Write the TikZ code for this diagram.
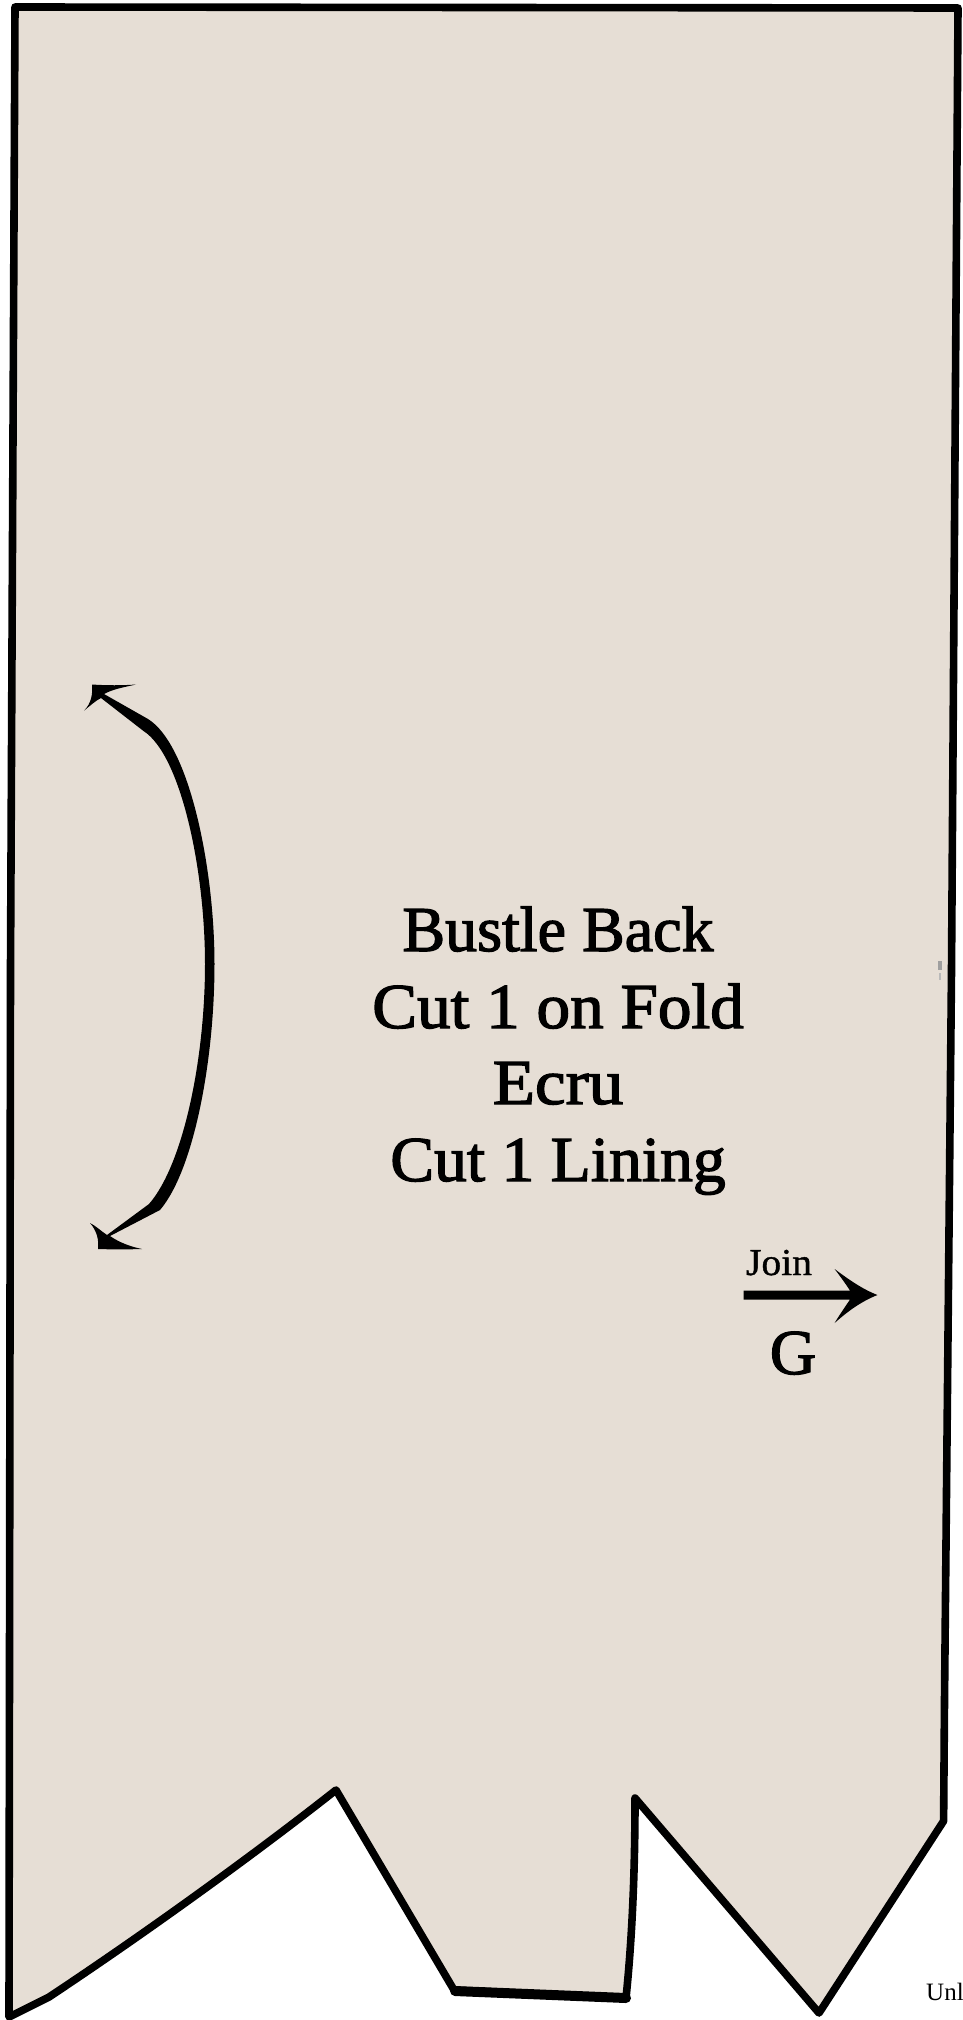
\documentclass[tikz,border=0pt]{standalone}
\usepackage{graphicx}
\usepackage{fontspec}
\setmainfont{Liberation Serif}
\newfontfamily\patfont[FakeBold=2]{Liberation Serif}
\newfontfamily\joinfont[FakeBold=1]{Liberation Serif}
\definecolor{ecru}{HTML}{E6DED5}
\tikzset{
  piece/.style={draw=black,fill=ecru,line width=7.6pt,line join=round,line cap=round},
  ink/.style={fill=black,draw=none},
  title/.style={inner sep=0pt,anchor=base,font=\patfont\fontsize{64}{64}\selectfont},
  small/.style={inner sep=0pt,anchor=base,font=\joinfont\fontsize{38}{38}\selectfont},
  tiny/.style={inner sep=0pt,anchor=base west,font=\fontsize{25}{25}\selectfont}
}
\begin{document}
\begin{tikzpicture}[x=1pt,y=-1pt]
\useasboundingbox (0,0) rectangle (962,2020);
\fill[white] (0,0) rectangle (962,2020);
% pattern piece outline
\draw[piece] (15,7) -- (958,8) -- (951.5,970) -- (944.5,1700) -- (943.6,1821)
  -- (819,2013) -- (635,1798)
  .. controls (635,1860) and (633,1930) .. (626,1998)
  -- (454,1990) -- (336,1790)
  .. controls (260,1850) and (150,1930) .. (49,1997)
  -- (9,2017) -- (10.5,970) -- cycle;
% heavier stretch along the lower edge
\draw[line width=10pt,line cap=round] (455,1991) -- (626,1998);
% small smudge near the right edge
\fill[gray!75] (938,961) rectangle (941.5,970);
\fill[gray!55] (939,973) rectangle (941,980);
% double-headed curved arrow
\path[ink] (92,684.5) .. controls (107,685.5) and (122,685.5) .. (136,684.5)
  .. controls (125,687) and (113,689) .. (104,694)
  -- (148,719)
  .. controls (190,745) and (214.5,870) .. (214.5,964)
  .. controls (214.5,1060) and (194,1170) .. (160,1210)
  -- (110,1236)
  .. controls (120,1243) and (132,1247) .. (142,1249)
  .. controls (127,1249.5) and (112,1249.5) .. (98,1249)
  .. controls (99,1240) and (97,1231) .. (90,1223)
  .. controls (96,1226) and (101,1231) .. (107,1235)
  -- (149,1204)
  .. controls (183,1165) and (205,1060) .. (205,964)
  .. controls (205,870) and (181,755) .. (143.5,731)
  -- (101,698)
  .. controls (95,701) and (90,706) .. (84,710.6)
  .. controls (91,704) and (93,694) .. (92,684.5) -- cycle;
% straight arrow
\path[ink] (743.6,1290.5) -- (850,1290.5)
  .. controls (845,1283) and (840,1276) .. (834.6,1269)
  .. controls (848,1279) and (862,1289) .. (877.5,1295)
  .. controls (862,1301) and (848,1311) .. (834.6,1323)
  .. controls (840,1314) and (845,1307) .. (850,1299.5)
  -- (743.6,1299.5) -- cycle;
% labels
\node[title] (t1) at (558,951) {Bustle Back};
\node[title] (t2) at (558,1028) {\scalebox{1.05}[1]{Cut 1 on Fold}};
\node[title] (t3) at (558,1104) {\scalebox{1.08}[1]{Ecru}};
\node[title] (t4) at (558,1181) {\scalebox{1.025}[1]{Cut 1 Lining}};
\node[small] (join) at (779,1275) {\scalebox{1.04}[1]{Join}};
\node[title] (g) at (793,1374) {G};
\node[tiny] (unl) at (926,2000) {Unl};
\end{tikzpicture}
\end{document}
